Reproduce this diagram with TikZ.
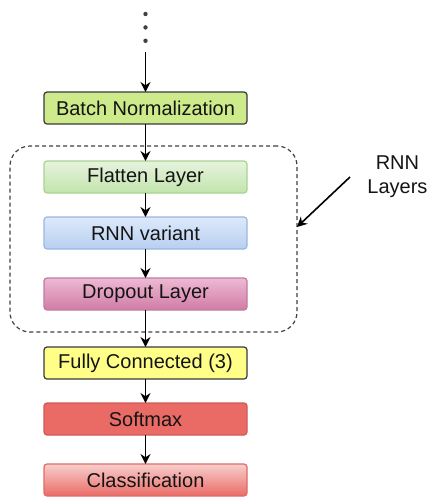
\documentclass[tikz,border=0pt]{standalone}
\usepackage{fontspec}
\setmainfont{Liberation Sans}
\usepackage{xcolor}
\usepackage{tikz}
\usetikzlibrary{positioning, fit, arrows.meta}
\definecolor{textdark}{HTML}{141414}
\definecolor{edgedark}{HTML}{36393D}
\definecolor{batchfill}{HTML}{CDEB8B}
\definecolor{flattentop}{RGB}{230,244,222}
\definecolor{flattenbot}{RGB}{194,228,172}
\definecolor{flattenedge}{RGB}{170,210,145}
\definecolor{rnntop}{RGB}{221,233,251}
\definecolor{rnnbot}{RGB}{184,207,240}
\definecolor{rnnedge}{RGB}{154,182,226}
\definecolor{droptop}{RGB}{237,186,211}
\definecolor{dropbot}{RGB}{209,123,166}
\definecolor{dropedge}{RGB}{192,122,160}
\definecolor{fcfill}{HTML}{FFFF88}
\definecolor{softfill}{HTML}{EA6B66}
\definecolor{softedge}{HTML}{CF5A55}
\definecolor{classtop}{HTML}{F8CECC}
\definecolor{classbot}{HTML}{EA6B66}
\definecolor{classedge}{HTML}{E06B66}
\tikzstyle{layer} = [rectangle, rounded corners=1.5pt, minimum width=101.5pt, minimum height=16pt, inner sep=0pt, outer sep=0pt, text centered, text=textdark, line width=0.6pt, font=\fontsize{10}{12}\selectfont]
\tikzstyle{arrow} = [-{Stealth[length=5pt, width=5pt]}, line width=0.8pt, black]
\tikzstyle{dot} = [circle, fill=black!75, inner sep=0pt, outer sep=0pt, minimum size=2.2pt]
\tikzstyle{group} = [draw=black!75, line width=0.6pt, dash pattern=on 2pt off 1.5pt, rounded corners=10pt, inner sep=0pt, outer sep=0pt]

\begin{document}
\begin{tikzpicture}[x=1pt, y=1pt]
		\useasboundingbox (0,0) rectangle (215,-249.5);
		\node (batchnorm)[layer, fill=batchfill, draw=edgedark] at (72.75,-54) {Batch Normalization};
		\node (flatten)[layer, below = 18.5pt of batchnorm, top color=flattentop, bottom color=flattenbot, draw=flattenedge]{Flatten Layer};
		\node (rnn)[layer, below = 12pt of flatten, top color=rnntop, bottom color=rnnbot, draw=rnnedge]{RNN variant};
		\node (dropout)[layer, below = 14.5pt of rnn, top color=droptop, bottom color=dropbot, draw=dropedge]{Dropout Layer};
		\node (fc)[layer, below = 18.5pt of dropout, fill=fcfill, draw=edgedark]{Fully Connected (3)};
		\node (softmax)[layer, below = 12pt of fc, fill=softfill, draw=softedge]{Softmax};
		\node (classif)[layer, below = 14.5pt of softmax, top color=classtop, bottom color=classbot, draw=classedge]{Classification};
		% incoming layers
		\coordinate [above = 20pt of batchnorm.north] (feed);
		\node (dot3)[dot, above = 4.5pt of feed]{};
		\node (dot2)[dot, above = 4.5pt of dot3]{};
		\node (dot1)[dot, above = 4.5pt of dot2]{};
		% recurrent block
		\coordinate [above left = 7.5pt and 17pt of flatten.north west] (groupnw);
		\coordinate [below right = 11pt and 25pt of dropout.south east] (groupse);
		\node (rnngroup)[group, fit=(groupnw)(groupse)]{};
		\node (rnnlabel)[right = 35pt of rnngroup.north east, yshift=-15.5pt, anchor=west, align=center, inner sep=0pt, text=textdark, font=\fontsize{10}{12}\selectfont]{RNN\\Layers};
		\draw [arrow] (feed) -- (batchnorm);
		\draw [arrow] (batchnorm) -- (flatten);
		\draw [arrow] (flatten) -- (rnn);
		\draw [arrow] (rnn) -- (dropout);
		\draw [arrow] (dropout) -- (fc);
		\draw [arrow] (fc) -- (softmax);
		\draw [arrow] (softmax) -- (classif);
		\draw [arrow] ([xshift=-8.5pt]rnnlabel.west) -- ([yshift=6pt]rnngroup.east);
	\end{tikzpicture}
\end{document}
